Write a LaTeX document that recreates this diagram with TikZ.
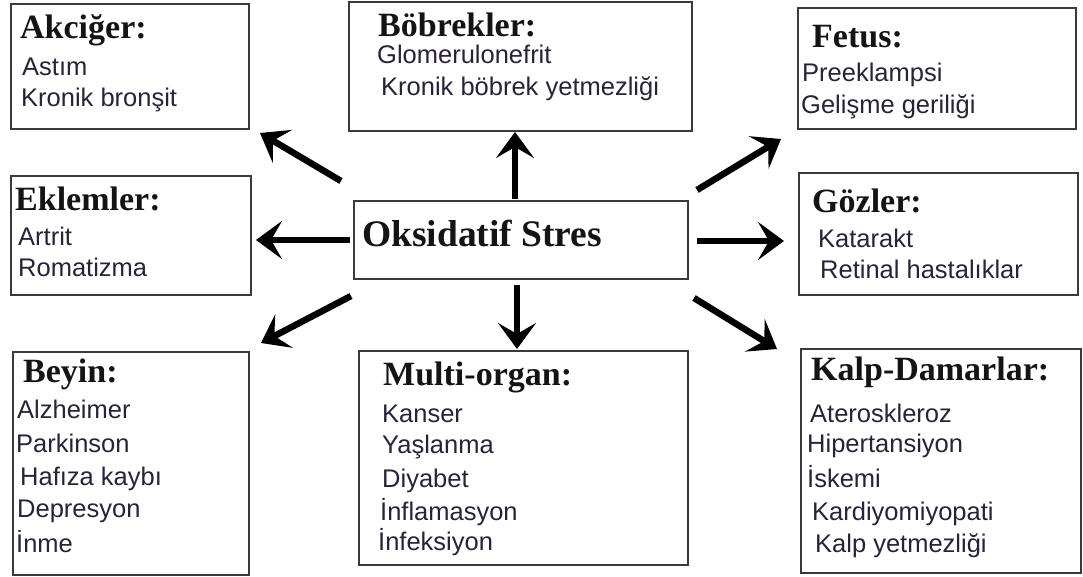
\documentclass[tikz,border=0pt]{standalone}
\usepackage{fontspec}
\setmainfont{Liberation Serif}
\newfontfamily\bodyfont{Liberation Sans}
\usetikzlibrary{arrows.meta}
\definecolor{txt}{HTML}{2A2238}
\definecolor{edge}{HTML}{3A3A3A}
\definecolor{headc}{HTML}{141414}
\begin{document}
\begin{tikzpicture}[x=1pt,y=-1pt,
  box/.style={draw=edge,line width=1.8pt,inner sep=0pt,anchor=north west},
  head/.style={anchor=base west,inner sep=0pt,text=headc,font=\fontsize{34}{34}\selectfont\bfseries},
  bighead/.style={anchor=base west,inner sep=0pt,text=headc,font=\fontsize{37.5}{37.5}\selectfont\bfseries},
  item/.style={anchor=base west,inner sep=0pt,text=txt,font=\fontsize{25.5}{25.5}\selectfont\bodyfont},
  arr/.style={line width=6.5pt,-{Stealth[length=26pt,width=38pt,inset=11pt]}}]
\useasboundingbox[fill=white] (0,0) rectangle (1083,576);

% boxes
\node[box,minimum width=238pt,minimum height=125pt] (akc) at (10,3) {};
\node[box,minimum width=343pt,minimum height=129pt] (bob) at (348,1) {};
\node[box,minimum width=278pt,minimum height=121pt] (fet) at (797,7) {};
\node[box,minimum width=240pt,minimum height=119pt] (ekl) at (10,175) {};
\node[box,minimum width=279pt,minimum height=122pt] (goz) at (798,172) {};
\node[box,minimum width=334pt,minimum height=78pt] (cen) at (353,200) {};
\node[box,minimum width=236pt,minimum height=223pt] (bey) at (12,351) {};
\node[box,minimum width=329pt,minimum height=214pt] (mul) at (358,350) {};
\node[box,minimum width=280pt,minimum height=224pt] (kal) at (800,348) {};

% Akciğer
\node[head] (akch) at (20,38) {Akciğer:};
\node[item] (akc1) at (22,75) {Astım};
\node[item] (akc2) at (21,106) {Kronik bronşit};

% Böbrekler
\node[head] (bobh) at (378,36) {Böbrekler:};
\node[item] (bob1) at (377,63) {Glomerulonefrit};
\node[item] (bob2) at (381,95) {Kronik böbrek yetmezliği};

% Fetus
\node[head] (feth) at (812,47) {Fetus:};
\node[item] (fet1) at (802,81) {Preeklampsi};
\node[item] (fet2) at (801,113) {Gelişme geriliği};

% Eklemler
\node[head] (eklh) at (15,210) {Eklemler:};
\node[item] (ekl1) at (18,245) {Artrit};
\node[item] (ekl2) at (18,276) {Romatizma};

% Gözler
\node[head] (gozh) at (812,212) {Gözler:};
\node[item] (goz1) at (818,247) {Katarakt};
\node[item] (goz2) at (820,278) {Retinal hastalıklar};

% center
\node[bighead] (cenh) at (362,246) {Oksidatif Stres};

% Beyin
\node[head] (beyh) at (23,382) {Beyin:};
\node[item] (bey1) at (17,418) {Alzheimer};
\node[item] (bey2) at (16,452) {Parkinson};
\node[item] (bey3) at (20,485) {Hafıza kaybı};
\node[item] (bey4) at (17,517) {Depresyon};
\node[item] (bey5) at (16,552) {İnme};

% Multi-organ
\node[head] (mulh) at (383,385) {Multi-organ:};
\node[item] (mul1) at (382,422) {Kanser};
\node[item] (mul2) at (382,453) {Yaşlanma};
\node[item] (mul3) at (382,487) {Diyabet};
\node[item] (mul4) at (380,520) {İnflamasyon};
\node[item] (mul5) at (378,550) {İnfeksiyon};

% Kalp-Damarlar
\node[head] (kalh) at (811,380) {Kalp-Damarlar:};
\node[item] (kal1) at (810,422) {Ateroskleroz};
\node[item] (kal2) at (807,452) {Hipertansiyon};
\node[item] (kal3) at (807,487) {İskemi};
\node[item] (kal4) at (812,520) {Kardiyomiyopati};
\node[item] (kal5) at (815,552) {Kalp yetmezliği};

% arrow end points
\coordinate (sU) at (515,199);  \coordinate (eU) at (515,132);
\coordinate (sD) at (517,285);  \coordinate (eD) at (517,349);
\coordinate (sL) at (350,240);  \coordinate (eL) at (256,240);
\coordinate (sR) at (697,241);  \coordinate (eR) at (784,241);
\coordinate (sUL) at (341,181); \coordinate (eUL) at (260,133);
\coordinate (sUR) at (697,190); \coordinate (eUR) at (781,139);
\coordinate (sLL) at (351,296); \coordinate (eLL) at (261,343);
\coordinate (sLR) at (694,298); \coordinate (eLR) at (777,349);

\draw[arr] (sU) -- (eU);
\draw[arr] (sD) -- (eD);
\draw[arr] (sL) -- (eL);
\draw[arr] (sR) -- (eR);
\draw[arr] (sUL) -- (eUL);
\draw[arr] (sUR) -- (eUR);
\draw[arr] (sLL) -- (eLL);
\draw[arr] (sLR) -- (eLR);
\end{tikzpicture}
\end{document}
